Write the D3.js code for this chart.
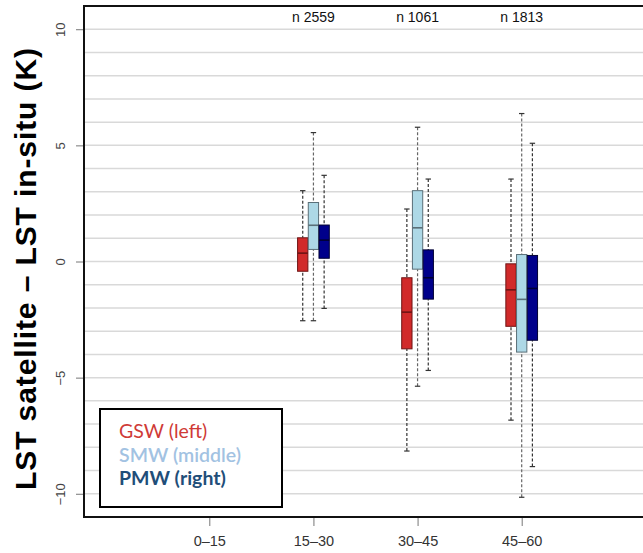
<!DOCTYPE html>
<html>
<head>
<meta charset="utf-8">
<script src="https://cdn.jsdelivr.net/npm/d3@7"></script>
<style>
  body { margin: 0; background: #fff; }
  svg { display: block; }
</style>
</head>
<body>
<svg width="643" height="553"></svg>
<script>
// categories (view zenith angle bins) and sample counts
const categories = ["0\u201315", "15\u201330", "30\u201345", "45\u201360"];
const nLabels = [null, "n 2559", "n 1061", "n 1813"];
const yTicks = [-10, -5, 0, 5, 10];

// boxplot stats per category: [whisker low, q1, median, q3, whisker high]
const gswStats = [null, [-2.55, -0.42, 0.36, 1.02, 3.05], [-8.16, -3.76, -2.18, -0.70, 2.26], [-6.83, -2.79, -1.22, -0.10, 3.55]];
const smwStats = [null, [-2.55, 0.52, 1.56, 2.54, 5.55], [-5.37, -0.33, 1.45, 3.05, 5.78], [-10.15, -3.90, -1.63, 0.30, 6.37]];
const pmwStats = [null, [-2.02, 0.14, 0.92, 1.57, 3.71], [-4.69, -1.62, -0.70, 0.50, 3.55], [-8.83, -3.39, -1.16, 0.26, 5.09]];

const series = [
    {name: "GSW (left)",   stats: gswStats, offset: -1, fill: "#d12a2a", stroke: "#6e1414", whisk: "#333", text: "#cf3a36", weight: 400},
    {name: "SMW (middle)", stats: smwStats, offset: 0,  fill: "#add8e6", stroke: "#5a6f78", whisk: "#666", text: "#a2c2e2", weight: 600},
    {name: "PMW (right)",  stats: pmwStats, offset: 1,  fill: "#00008b", stroke: "#000033", whisk: "#333", text: "#1f4e79", weight: 700}
];

const svg = d3.select("svg");
const plotLeft = 84, plotTop = 6, plotBottom = 517, plotRight = 650;

const y = d3.scaleLinear().domain([-11, 11]).range([plotBottom, plotTop]);
const x = d3.scalePoint().domain(categories).range([209.3, 521.7]);
const boxW = 10.3, step = 10.7;

// horizontal grid, one line per unit
svg.append("g")
    .selectAll("line")
    .data(d3.range(-10, 11))
    .join("line")
    .attr("x1", plotLeft).attr("x2", plotRight)
    .attr("y1", d => y(d)).attr("y2", d => y(d))
    .attr("stroke", "#d9d9d9")
    .attr("stroke-width", 1.5);

// y axis
const yAxis = svg.append("g")
    .attr("transform", `translate(${plotLeft},0)`)
    .call(d3.axisLeft(y).tickValues(yTicks).tickSize(8).tickFormat(d => d < 0 ? "\u2212" + Math.abs(d) : d));
yAxis.select(".domain").remove();
yAxis.selectAll(".tick line").attr("stroke", "#777");
yAxis.selectAll(".tick text")
    .attr("x", 0).attr("dy", 0)
    .attr("transform", "translate(-19,0) rotate(-90)")
    .attr("text-anchor", "middle")
    .style("font-family", "Liberation Sans, Arial, sans-serif")
    .style("font-size", "13px")
    .attr("fill", "#444");

// x axis
const xAxis = svg.append("g")
    .attr("transform", `translate(0,${plotBottom})`)
    .call(d3.axisBottom(x).tickSize(9).tickPadding(10));
xAxis.select(".domain").remove();
xAxis.selectAll(".tick line").attr("stroke", "#777");
xAxis.selectAll(".tick text")
    .style("font-family", "Liberation Sans, Arial, sans-serif")
    .style("font-size", "14.5px")
    .attr("fill", "#333");

// n counts at top
svg.append("g")
    .selectAll("text")
    .data(categories.map((c, i) => ({c: c, n: nLabels[i]})).filter(d => d.n))
    .join("text")
    .attr("x", d => x(d.c))
    .attr("y", 22)
    .attr("text-anchor", "middle")
    .style("font-family", "Liberation Sans, Arial, sans-serif")
    .style("font-size", "14px")
    .attr("fill", "#111")
    .text(d => d.n);

// boxes
series.forEach(s => {
    const data = categories.map((c, i) => ({c: c, st: s.stats[i]})).filter(d => d.st);
    const g = svg.append("g");
    const cx = d => x(d.c) + s.offset * step;

    // whiskers (dashed)
    g.selectAll(".wlow").data(data).join("line")
        .attr("x1", cx).attr("x2", cx)
        .attr("y1", d => y(d.st[0])).attr("y2", d => y(d.st[1]))
        .attr("stroke", s.whisk).attr("stroke-width", 1.2).attr("stroke-dasharray", "3,2");
    g.selectAll(".whigh").data(data).join("line")
        .attr("x1", cx).attr("x2", cx)
        .attr("y1", d => y(d.st[4])).attr("y2", d => y(d.st[3]))
        .attr("stroke", s.whisk).attr("stroke-width", 1.2).attr("stroke-dasharray", "3,2");
    // caps
    [0, 4].forEach(k => {
        g.selectAll(".cap" + k).data(data).join("line")
            .attr("x1", d => cx(d) - 2.7).attr("x2", d => cx(d) + 2.7)
            .attr("y1", d => y(d.st[k])).attr("y2", d => y(d.st[k]))
            .attr("stroke", "#333").attr("stroke-width", 1.2);
    });
    // box
    g.selectAll("rect").data(data).join("rect")
        .attr("x", d => cx(d) - boxW / 2)
        .attr("width", boxW)
        .attr("y", d => y(d.st[3]))
        .attr("height", d => y(d.st[1]) - y(d.st[3]))
        .attr("fill", s.fill)
        .attr("stroke", s.stroke)
        .attr("stroke-width", 1);
    // median
    g.selectAll(".med").data(data).join("line")
        .attr("x1", d => cx(d) - boxW / 2).attr("x2", d => cx(d) + boxW / 2)
        .attr("y1", d => y(d.st[2])).attr("y2", d => y(d.st[2]))
        .attr("stroke", s.stroke).attr("stroke-width", 1.6);
});

// frame (right side runs off the page)
svg.append("path")
    .attr("d", `M${plotRight},${plotTop}H${plotLeft}V${plotBottom}H${plotRight}`)
    .attr("fill", "none")
    .attr("stroke", "#111")
    .attr("stroke-width", 2);

// y axis title
svg.append("text")
    .attr("transform", "translate(36,269) rotate(-90)")
    .attr("text-anchor", "middle")
    .attr("textLength", 442)
    .attr("lengthAdjust", "spacing")
    .style("font-family", "Liberation Sans, Arial, sans-serif")
    .style("font-size", "30px")
    .style("font-weight", "bold")
    .attr("fill", "#000")
    .text("LST satellite \u2013 LST in-situ (K)");

// legend
const leg = svg.append("g");
leg.append("rect")
    .attr("x", 100).attr("y", 409)
    .attr("width", 182).attr("height", 98)
    .attr("fill", "#fff")
    .attr("stroke", "#000")
    .attr("stroke-width", 2);
leg.selectAll("text")
    .data(series)
    .join("text")
    .attr("x", 119)
    .attr("y", (d, i) => 438 + i * 23.5)
    .style("font-family", "Lato, sans-serif")
    .style("font-size", "19.5px")
    .style("font-weight", d => d.weight)
    .attr("fill", d => d.text)
    .text(d => d.name);
</script>
</body>
</html>
